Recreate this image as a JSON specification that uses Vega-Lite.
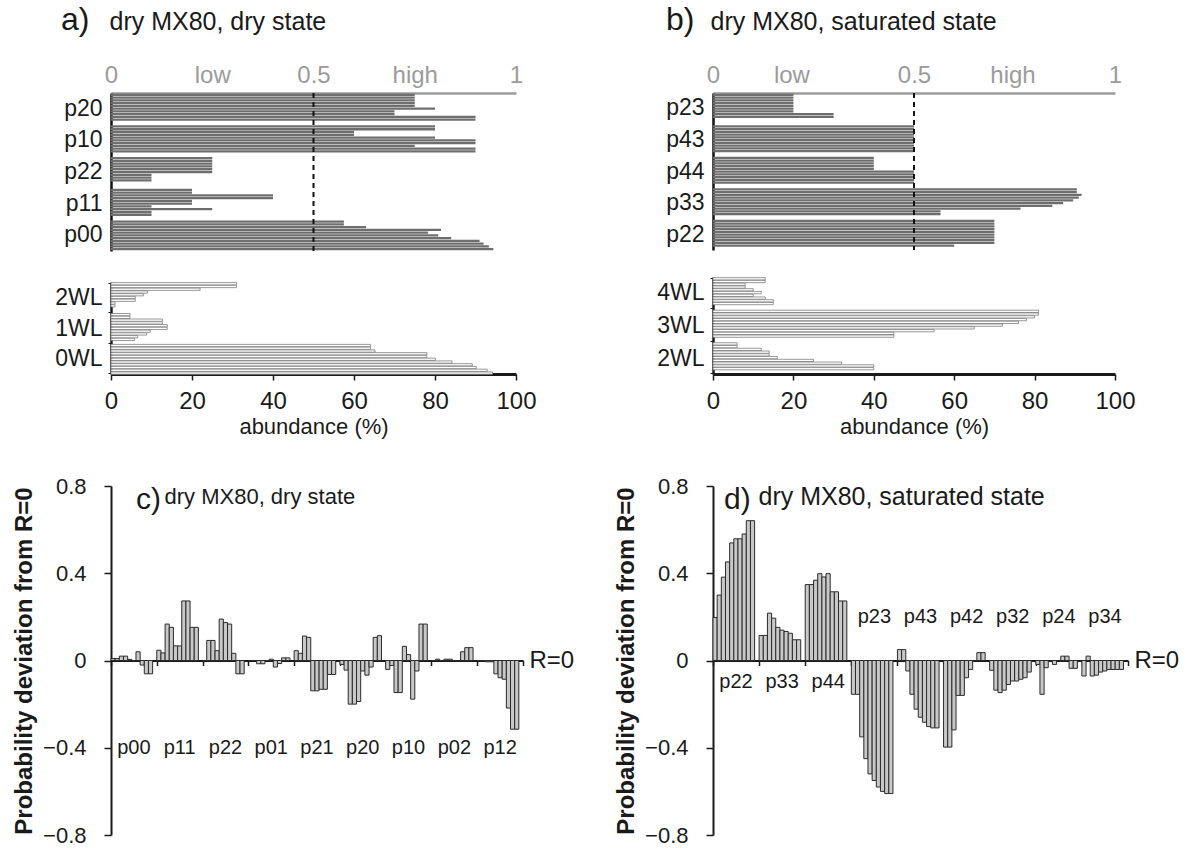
{
  "$schema": "https://vega.github.io/schema/vega-lite/v6.json",
  "background": "white",
  "padding": {"left": 12, "top": 4, "right": 0, "bottom": 0},
  "config": {
    "font": "Liberation Sans",
    "view": {"stroke": null},
    "axis": {"grid": false, "labelColor": "#1a1a1a", "titleColor": "#1a1a1a", "domainColor": "#1a1a1a", "tickColor": "#1a1a1a", "labelOverlap": false},
    "title": {"color": "#1a1a1a", "fontWeight": "normal"},
    "text": {"color": "#1a1a1a"}
  },
  "datasets": {
    "at": [
      {"g":"p20","i":0,"v":75},{"g":"p20","i":1,"v":75},{"g":"p20","i":2,"v":75},{"g":"p20","i":3,"v":75},{"g":"p20","i":4,"v":75},{"g":"p20","i":5,"v":80},{"g":"p20","i":6,"v":70},{"g":"p20","i":7,"v":70},{"g":"p20","i":8,"v":90},{"g":"p20","i":9,"v":90},
      {"g":"p10","i":0,"v":80},{"g":"p10","i":1,"v":80},{"g":"p10","i":2,"v":60},{"g":"p10","i":3,"v":60},{"g":"p10","i":4,"v":80},{"g":"p10","i":5,"v":90},{"g":"p10","i":6,"v":90},{"g":"p10","i":7,"v":75},{"g":"p10","i":8,"v":90},{"g":"p10","i":9,"v":90},
      {"g":"p22","i":0,"v":25},{"g":"p22","i":1,"v":25},{"g":"p22","i":2,"v":25},{"g":"p22","i":3,"v":25},{"g":"p22","i":4,"v":25},{"g":"p22","i":5,"v":25},{"g":"p22","i":6,"v":10},{"g":"p22","i":7,"v":10},{"g":"p22","i":8,"v":10},
      {"g":"p11","i":0,"v":20},{"g":"p11","i":1,"v":20},{"g":"p11","i":2,"v":40},{"g":"p11","i":3,"v":40},{"g":"p11","i":4,"v":20},{"g":"p11","i":5,"v":20},{"g":"p11","i":6,"v":10},{"g":"p11","i":7,"v":25},{"g":"p11","i":8,"v":10},{"g":"p11","i":9,"v":10},
      {"g":"p00","i":0,"v":57.5},{"g":"p00","i":1,"v":57.5},{"g":"p00","i":2,"v":63},{"g":"p00","i":3,"v":81.5},{"g":"p00","i":4,"v":78.3},{"g":"p00","i":5,"v":80.8},{"g":"p00","i":6,"v":84},{"g":"p00","i":7,"v":91},{"g":"p00","i":8,"v":92},{"g":"p00","i":9,"v":93.3},{"g":"p00","i":10,"v":94.4}
    ],
    "ab": [
      {"g":"2WL","i":0,"v":31},{"g":"2WL","i":1,"v":31},{"g":"2WL","i":2,"v":22},{"g":"2WL","i":3,"v":9},{"g":"2WL","i":4,"v":8},{"g":"2WL","i":5,"v":6},{"g":"2WL","i":6,"v":6},{"g":"2WL","i":7,"v":1},{"g":"2WL","i":8,"v":1},
      {"g":"1WL","i":0,"v":4.7},{"g":"1WL","i":1,"v":4.7},{"g":"1WL","i":2,"v":12.7},{"g":"1WL","i":3,"v":12.7},{"g":"1WL","i":4,"v":13.9},{"g":"1WL","i":5,"v":13.9},{"g":"1WL","i":6,"v":9.7},{"g":"1WL","i":7,"v":8.8},{"g":"1WL","i":8,"v":6.6},{"g":"1WL","i":9,"v":5.8},
      {"g":"0WL","i":0,"v":64.1},{"g":"0WL","i":1,"v":64.1},{"g":"0WL","i":2,"v":65.2},{"g":"0WL","i":3,"v":78},{"g":"0WL","i":4,"v":78},{"g":"0WL","i":5,"v":80.1},{"g":"0WL","i":6,"v":84.2},{"g":"0WL","i":7,"v":89.2},{"g":"0WL","i":8,"v":90.2},{"g":"0WL","i":9,"v":92.9},{"g":"0WL","i":10,"v":94.2}
    ],
    "bt": [
      {"g":"p23","i":0,"v":20},{"g":"p23","i":1,"v":20},{"g":"p23","i":2,"v":20},{"g":"p23","i":3,"v":20},{"g":"p23","i":4,"v":20},{"g":"p23","i":5,"v":20},{"g":"p23","i":6,"v":20},{"g":"p23","i":7,"v":30},{"g":"p23","i":8,"v":30},
      {"g":"p43","i":0,"v":50},{"g":"p43","i":1,"v":50},{"g":"p43","i":2,"v":50},{"g":"p43","i":3,"v":50},{"g":"p43","i":4,"v":50},{"g":"p43","i":5,"v":50},{"g":"p43","i":6,"v":50},{"g":"p43","i":7,"v":50},{"g":"p43","i":8,"v":50},{"g":"p43","i":9,"v":50},
      {"g":"p44","i":0,"v":40},{"g":"p44","i":1,"v":40},{"g":"p44","i":2,"v":40},{"g":"p44","i":3,"v":40},{"g":"p44","i":4,"v":40},{"g":"p44","i":5,"v":50},{"g":"p44","i":6,"v":50},{"g":"p44","i":7,"v":50},{"g":"p44","i":8,"v":50},{"g":"p44","i":9,"v":50},
      {"g":"p33","i":0,"v":90.5},{"g":"p33","i":1,"v":90.5},{"g":"p33","i":2,"v":91.7},{"g":"p33","i":3,"v":91},{"g":"p33","i":4,"v":89.6},{"g":"p33","i":5,"v":87.1},{"g":"p33","i":6,"v":84.4},{"g":"p33","i":7,"v":76.5},{"g":"p33","i":8,"v":56.6},{"g":"p33","i":9,"v":56.6},
      {"g":"p22","i":0,"v":70},{"g":"p22","i":1,"v":70},{"g":"p22","i":2,"v":70},{"g":"p22","i":3,"v":70},{"g":"p22","i":4,"v":70},{"g":"p22","i":5,"v":70},{"g":"p22","i":6,"v":70},{"g":"p22","i":7,"v":70},{"g":"p22","i":8,"v":70},{"g":"p22","i":9,"v":60}
    ],
    "bb": [
      {"g":"4WL","i":0,"v":13},{"g":"4WL","i":1,"v":13},{"g":"4WL","i":2,"v":8},{"g":"4WL","i":3,"v":8},{"g":"4WL","i":4,"v":10},{"g":"4WL","i":5,"v":12},{"g":"4WL","i":6,"v":10},{"g":"4WL","i":7,"v":13},{"g":"4WL","i":8,"v":15},{"g":"4WL","i":9,"v":15},
      {"g":"3WL","i":0,"v":81},{"g":"3WL","i":1,"v":81},{"g":"3WL","i":2,"v":80},{"g":"3WL","i":3,"v":78},{"g":"3WL","i":4,"v":76},{"g":"3WL","i":5,"v":72},{"g":"3WL","i":6,"v":65},{"g":"3WL","i":7,"v":55},{"g":"3WL","i":8,"v":45},{"g":"3WL","i":9,"v":45},
      {"g":"2WL","i":0,"v":6},{"g":"2WL","i":1,"v":6},{"g":"2WL","i":2,"v":12},{"g":"2WL","i":3,"v":14},{"g":"2WL","i":4,"v":14},{"g":"2WL","i":5,"v":16},{"g":"2WL","i":6,"v":25},{"g":"2WL","i":7,"v":32},{"g":"2WL","i":8,"v":40},{"g":"2WL","i":9,"v":40}
    ],
    "c": [
      {"g":"p00","i":0,"v":0.009},{"g":"p00","i":1,"v":0.009},{"g":"p00","i":2,"v":0.02},{"g":"p00","i":3,"v":0.02},{"g":"p00","i":4,"v":0.005},{"g":"p00","i":5,"v":0},{"g":"p00","i":6,"v":0.04},{"g":"p00","i":7,"v":-0.021},{"g":"p00","i":8,"v":-0.061},{"g":"p00","i":9,"v":-0.061},
      {"g":"p11","i":0,"v":0.047},{"g":"p11","i":1,"v":0.035},{"g":"p11","i":2,"v":0.167},{"g":"p11","i":3,"v":0.152},{"g":"p11","i":4,"v":0.067},{"g":"p11","i":5,"v":0.067},{"g":"p11","i":6,"v":0.273},{"g":"p11","i":7,"v":0.273},{"g":"p11","i":8,"v":0.152},{"g":"p11","i":9,"v":0.152},
      {"g":"p22","i":0,"v":0},{"g":"p22","i":1,"v":0.092},{"g":"p22","i":2,"v":0.092},{"g":"p22","i":3,"v":0.045},{"g":"p22","i":4,"v":0.19},{"g":"p22","i":5,"v":0.174},{"g":"p22","i":6,"v":0.167},{"g":"p22","i":7,"v":0.033},{"g":"p22","i":8,"v":-0.061},{"g":"p22","i":9,"v":-0.061},
      {"g":"p01","i":0,"v":0},{"g":"p01","i":1,"v":0},{"g":"p01","i":2,"v":-0.015},{"g":"p01","i":3,"v":-0.015},{"g":"p01","i":4,"v":0},{"g":"p01","i":5,"v":0.006},{"g":"p01","i":6,"v":-0.03},{"g":"p01","i":7,"v":-0.014},{"g":"p01","i":8,"v":0.012},{"g":"p01","i":9,"v":0.012},
      {"g":"p21","i":0,"v":0.045},{"g":"p21","i":1,"v":0.033},{"g":"p21","i":2,"v":0.112},{"g":"p21","i":3,"v":0.106},{"g":"p21","i":4,"v":-0.139},{"g":"p21","i":5,"v":-0.139},{"g":"p21","i":6,"v":-0.132},{"g":"p21","i":7,"v":-0.132},{"g":"p21","i":8,"v":-0.064},{"g":"p21","i":9,"v":-0.064},
      {"g":"p20","i":0,"v":-0.018},{"g":"p20","i":1,"v":-0.044},{"g":"p20","i":2,"v":-0.2},{"g":"p20","i":3,"v":-0.2},{"g":"p20","i":4,"v":-0.188},{"g":"p20","i":5,"v":-0.048},{"g":"p20","i":6,"v":-0.067},{"g":"p20","i":7,"v":-0.03},{"g":"p20","i":8,"v":0.106},{"g":"p20","i":9,"v":0.114},
      {"g":"p10","i":0,"v":-0.041},{"g":"p10","i":1,"v":-0.023},{"g":"p10","i":2,"v":-0.147},{"g":"p10","i":3,"v":-0.147},{"g":"p10","i":4,"v":0.065},{"g":"p10","i":5,"v":0.027},{"g":"p10","i":6,"v":-0.177},{"g":"p10","i":7,"v":-0.048},{"g":"p10","i":8,"v":0.167},{"g":"p10","i":9,"v":0.167},
      {"g":"p02","i":0,"v":0},{"g":"p02","i":1,"v":0.006},{"g":"p02","i":2,"v":0},{"g":"p02","i":3,"v":0.006},{"g":"p02","i":4,"v":0.006},{"g":"p02","i":5,"v":0},{"g":"p02","i":6,"v":0},{"g":"p02","i":7,"v":0.04},{"g":"p02","i":8,"v":0.059},{"g":"p02","i":9,"v":0.059},
      {"g":"p12","i":0,"v":0},{"g":"p12","i":1,"v":0},{"g":"p12","i":2,"v":-0.006},{"g":"p12","i":3,"v":-0.006},{"g":"p12","i":4,"v":-0.061},{"g":"p12","i":5,"v":-0.079},{"g":"p12","i":6,"v":-0.086},{"g":"p12","i":7,"v":-0.218},{"g":"p12","i":8,"v":-0.315},{"g":"p12","i":9,"v":-0.315}
    ],
    "d": [
      {"g":"p22","i":0,"v":0.197},{"g":"p22","i":1,"v":0.3},{"g":"p22","i":2,"v":0.382},{"g":"p22","i":3,"v":0.452},{"g":"p22","i":4,"v":0.539},{"g":"p22","i":5,"v":0.558},{"g":"p22","i":6,"v":0.558},{"g":"p22","i":7,"v":0.58},{"g":"p22","i":8,"v":0.641},{"g":"p22","i":9,"v":0.641},
      {"g":"p33","i":0,"v":0.115},{"g":"p33","i":1,"v":0.115},{"g":"p33","i":2,"v":0.217},{"g":"p33","i":3,"v":0.194},{"g":"p33","i":4,"v":0.152},{"g":"p33","i":5,"v":0.139},{"g":"p33","i":6,"v":0.133},{"g":"p33","i":7,"v":0.125},{"g":"p33","i":8,"v":0.095},{"g":"p33","i":9,"v":0.095},
      {"g":"p44","i":0,"v":0.348},{"g":"p44","i":1,"v":0.348},{"g":"p44","i":2,"v":0.368},{"g":"p44","i":3,"v":0.398},{"g":"p44","i":4,"v":0.383},{"g":"p44","i":5,"v":0.398},{"g":"p44","i":6,"v":0.315},{"g":"p44","i":7,"v":0.315},{"g":"p44","i":8,"v":0.273},{"g":"p44","i":9,"v":0.273},
      {"g":"p23","i":0,"v":-0.155},{"g":"p23","i":1,"v":-0.155},{"g":"p23","i":2,"v":-0.35},{"g":"p23","i":3,"v":-0.45},{"g":"p23","i":4,"v":-0.52},{"g":"p23","i":5,"v":-0.55},{"g":"p23","i":6,"v":-0.58},{"g":"p23","i":7,"v":-0.6},{"g":"p23","i":8,"v":-0.61},{"g":"p23","i":9,"v":-0.61},
      {"g":"p43","i":0,"v":0.05},{"g":"p43","i":1,"v":0.05},{"g":"p43","i":2,"v":-0.048},{"g":"p43","i":3,"v":-0.155},{"g":"p43","i":4,"v":-0.223},{"g":"p43","i":5,"v":-0.26},{"g":"p43","i":6,"v":-0.283},{"g":"p43","i":7,"v":-0.303},{"g":"p43","i":8,"v":-0.309},{"g":"p43","i":9,"v":-0.309},
      {"g":"p42","i":0,"v":-0.397},{"g":"p42","i":1,"v":-0.397},{"g":"p42","i":2,"v":-0.318},{"g":"p42","i":3,"v":-0.16},{"g":"p42","i":4,"v":-0.16},{"g":"p42","i":5,"v":-0.079},{"g":"p42","i":6,"v":-0.041},{"g":"p42","i":7,"v":0},{"g":"p42","i":8,"v":0.036},{"g":"p42","i":9,"v":0.036},
      {"g":"p32","i":0,"v":-0.045},{"g":"p32","i":1,"v":-0.136},{"g":"p32","i":2,"v":-0.147},{"g":"p32","i":3,"v":-0.136},{"g":"p32","i":4,"v":-0.11},{"g":"p32","i":5,"v":-0.094},{"g":"p32","i":6,"v":-0.094},{"g":"p32","i":7,"v":-0.086},{"g":"p32","i":8,"v":-0.079},{"g":"p32","i":9,"v":-0.053},
      {"g":"p24","i":0,"v":-0.018},{"g":"p24","i":1,"v":-0.155},{"g":"p24","i":2,"v":-0.033},{"g":"p24","i":3,"v":0},{"g":"p24","i":4,"v":-0.018},{"g":"p24","i":5,"v":0},{"g":"p24","i":6,"v":0.02},{"g":"p24","i":7,"v":0.02},{"g":"p24","i":8,"v":-0.036},{"g":"p24","i":9,"v":-0.036},
      {"g":"p34","i":0,"v":-0.071},{"g":"p34","i":1,"v":0.02},{"g":"p34","i":2,"v":-0.071},{"g":"p34","i":3,"v":-0.067},{"g":"p34","i":4,"v":-0.053},{"g":"p34","i":5,"v":-0.048},{"g":"p34","i":6,"v":-0.041},{"g":"p34","i":7,"v":-0.041},{"g":"p34","i":8,"v":-0.041},{"g":"p34","i":9,"v":-0.041}
    ]
  },
  "spacing": 40,
  "hconcat": [
    {
      "spacing": 31,
      "bounds": "flush",
      "vconcat": [
        {
          "width": 405, "height": 158,
          "title": {"text": "a)", "anchor": "start", "frame": "group", "fontSize": 32, "dx": -50, "dy": 31, "offset": -12, "baseline": "middle"},
          "layer": [
            {
              "data": {"name": "at"},
              "mark": {"type": "bar", "fill": "#6e6e6e"},
              "encoding": {
                "y": {"field": "g", "type": "nominal", "scale": {"domain": ["p20","p10","p22","p11","p00"], "paddingInner": 0.06, "paddingOuter": 0.02}, "axis": {"title": null, "ticks": false, "tickSize": 0, "domainColor": "#111", "domainWidth": 2.5, "labelFontSize": 23, "labelPadding": 9}},
                "yOffset": {"field": "i", "type": "ordinal", "scale": {"paddingInner": 0.18}},
                "x": {"field": "v", "type": "quantitative", "scale": {"domain": [0, 100], "nice": false},
                  "axis": {"orient": "top", "values": [0, 25, 50, 75, 100], "labelExpr": "datum.value == 0 ? '0' : datum.value < 30 ? 'low' : datum.value == 50 ? '0.5' : datum.value < 90 ? 'high' : '1'", "ticks": false, "tickSize": 0, "domainColor": "#9b9b9b", "domainWidth": 2.5, "labelColor": "#9b9b9b", "labelFontSize": 24, "labelPadding": 6, "labelFlush": false, "title": "dry MX80, dry state", "titleFontSize": 25, "titleFontWeight": "normal", "titleX": -2, "titleY": -72, "titleAlign": "left", "titleAnchor": "start", "titleBaseline": "middle"}}
              }
            },
            {
              "data": {"values": [{}]},
              "mark": {"type": "rule", "strokeDash": [5, 4], "strokeWidth": 2, "color": "#111"},
              "encoding": {"x": {"datum": 50}}
            }
          ]
        },
        {
          "width": 405, "height": 92,
          "data": {"name": "ab"},
          "mark": {"type": "bar", "fill": "white", "stroke": "#7d7d7d", "strokeWidth": 0.8},
          "encoding": {
            "y": {"field": "g", "type": "nominal", "scale": {"domain": ["2WL","1WL","0WL"], "paddingInner": 0.06, "paddingOuter": 0.02}, "axis": {"title": null, "tickBand": "extent", "tickSize": 3, "domainWidth": 2.5, "labelFontSize": 23, "labelPadding": 6}},
            "yOffset": {"field": "i", "type": "ordinal", "scale": {"paddingInner": 0.15}},
            "x": {"field": "v", "type": "quantitative", "scale": {"domain": [0, 100], "nice": false},
              "axis": {"values": [0, 20, 40, 60, 80, 100], "tickSize": 6, "tickWidth": 1.5, "domainWidth": 3, "labelFontSize": 24, "labelPadding": 9, "labelFlush": false, "title": "abundance (%)", "titleFontSize": 22, "titleFontWeight": "normal", "titlePadding": 3}}
          }
        },
        {
          "width": 10, "height": 50,
          "data": {"values": [{}]},
          "mark": {"type": "text"},
          "encoding": {"text": {"value": ""}}
        },
        {
          "width": 412, "height": 349,
          "title": {"text": "c)", "anchor": "start", "frame": "group", "fontSize": 30, "dx": 25, "dy": 30, "offset": -25, "baseline": "middle"},
          "layer": [
            {
              "data": {"name": "c"},
              "mark": {"type": "bar", "fill": "#c8c8c8", "stroke": "#2b2b2b", "strokeWidth": 1},
              "encoding": {
                "x": {"field": "g", "type": "nominal", "scale": {"domain": ["p00","p11","p22","p01","p21","p20","p10","p02","p12"], "paddingInner": 0, "paddingOuter": 0},
                  "axis": {"orient": "bottom", "offset": -174.5, "labels": false, "tickBand": "extent", "tickSize": 5, "tickWidth": 1.5, "domainWidth": 2, "title": "R=0", "titleX": 418, "titleY": 0, "titleAlign": "left", "titleBaseline": "middle", "titleAngle": 0, "titleFontSize": 24, "titleFontWeight": "normal"}},
                "xOffset": {"field": "i", "type": "ordinal", "scale": {"paddingInner": 0, "paddingOuter": 0.5, "align": 0}},
                "y": {"field": "v", "type": "quantitative", "scale": {"domain": [-0.8, 0.8], "nice": false},
                  "axis": {"values": [-0.8, -0.4, 0, 0.4, 0.8], "format": ".1~f", "tickSize": 7, "tickWidth": 1.5, "domainWidth": 2, "labelFontSize": 22, "labelPadding": 18, "title": "Probability deviation from R=0", "titleFontSize": 24, "titleFontWeight": "bold", "titlePadding": 6}}
              }
            },
            {
              "data": {"values": [{"g":"p00"},{"g":"p11"},{"g":"p22"},{"g":"p01"},{"g":"p21"},{"g":"p20"},{"g":"p10"},{"g":"p02"},{"g":"p12"}]},
              "mark": {"type": "text", "fontSize": 20, "baseline": "middle"},
              "encoding": {
                "x": {"field": "g", "type": "nominal", "scale": {"domain": ["p00","p11","p22","p01","p21","p20","p10","p02","p12"]},
                  "axis": {"orient": "top", "labels": false, "ticks": false, "domain": false, "title": "dry MX80, dry state", "titleFontSize": 22, "titleFontWeight": "normal", "titleX": 53, "titleY": 10, "titleAlign": "left", "titleBaseline": "middle"}},
                "y": {"datum": -0.4},
                "text": {"field": "g"}
              }
            }
          ],
          "resolve": {"axis": {"x": "independent"}}
        }
      ]
    },
    {
      "spacing": 27,
      "bounds": "flush",
      "vconcat": [
        {
          "width": 402, "height": 157,
          "title": {"text": "b)", "anchor": "start", "frame": "group", "fontSize": 32, "dx": -47, "dy": 31, "offset": -12, "baseline": "middle"},
          "layer": [
            {
              "data": {"name": "bt"},
              "mark": {"type": "bar", "fill": "#6e6e6e"},
              "encoding": {
                "y": {"field": "g", "type": "nominal", "scale": {"domain": ["p23","p43","p44","p33","p22"], "paddingInner": 0.06, "paddingOuter": 0.02}, "axis": {"title": null, "ticks": false, "tickSize": 0, "domainColor": "#111", "domainWidth": 2.5, "labelFontSize": 23, "labelPadding": 9}},
                "yOffset": {"field": "i", "type": "ordinal", "scale": {"paddingInner": 0.18}},
                "x": {"field": "v", "type": "quantitative", "scale": {"domain": [0, 100], "nice": false},
                  "axis": {"orient": "top", "values": [0, 19.5, 50, 74.5, 100], "labelExpr": "datum.value == 0 ? '0' : datum.value < 30 ? 'low' : datum.value == 50 ? '0.5' : datum.value < 90 ? 'high' : '1'", "ticks": false, "tickSize": 0, "domainColor": "#9b9b9b", "domainWidth": 2.5, "labelColor": "#9b9b9b", "labelFontSize": 24, "labelPadding": 6, "labelFlush": false, "title": "dry MX80, saturated state", "titleFontSize": 25, "titleFontWeight": "normal", "titleX": -3, "titleY": -72, "titleAlign": "left", "titleAnchor": "start", "titleBaseline": "middle"}}
              }
            },
            {
              "data": {"values": [{}]},
              "mark": {"type": "rule", "strokeDash": [5, 4], "strokeWidth": 2, "color": "#111"},
              "encoding": {"x": {"datum": 50}}
            }
          ]
        },
        {
          "width": 402, "height": 97,
          "data": {"name": "bb"},
          "mark": {"type": "bar", "fill": "white", "stroke": "#7d7d7d", "strokeWidth": 0.8},
          "encoding": {
            "y": {"field": "g", "type": "nominal", "scale": {"domain": ["4WL","3WL","2WL"], "paddingInner": 0.06, "paddingOuter": 0.02}, "axis": {"title": null, "tickBand": "extent", "tickSize": 3, "domainWidth": 2.5, "labelFontSize": 23, "labelPadding": 6}},
            "yOffset": {"field": "i", "type": "ordinal", "scale": {"paddingInner": 0.15}},
            "x": {"field": "v", "type": "quantitative", "scale": {"domain": [0, 100], "nice": false},
              "axis": {"values": [0, 20, 40, 60, 80, 100], "tickSize": 6, "tickWidth": 1.5, "domainWidth": 3, "labelFontSize": 24, "labelPadding": 9, "labelFlush": false, "title": "abundance (%)", "titleFontSize": 22, "titleFontWeight": "normal", "titlePadding": 3}}
          }
        },
        {
          "width": 10, "height": 58,
          "data": {"values": [{}]},
          "mark": {"type": "text"},
          "encoding": {"text": {"value": ""}}
        },
        {
          "width": 415, "height": 349,
          "title": {"text": "d)", "anchor": "start", "frame": "group", "fontSize": 30, "dx": 11, "dy": 30, "offset": -25, "baseline": "middle"},
          "layer": [
            {
              "data": {"name": "d"},
              "mark": {"type": "bar", "fill": "#c8c8c8", "stroke": "#2b2b2b", "strokeWidth": 1},
              "encoding": {
                "x": {"field": "g", "type": "nominal", "scale": {"domain": ["p22","p33","p44","p23","p43","p42","p32","p24","p34"], "paddingInner": 0, "paddingOuter": 0},
                  "axis": {"orient": "bottom", "offset": -174.5, "labels": false, "tickBand": "extent", "tickSize": 5, "tickWidth": 1.5, "domainWidth": 2, "title": "R=0", "titleX": 421, "titleY": 0, "titleAlign": "left", "titleBaseline": "middle", "titleAngle": 0, "titleFontSize": 24, "titleFontWeight": "normal"}},
                "xOffset": {"field": "i", "type": "ordinal", "scale": {"paddingInner": 0, "paddingOuter": 0.5, "align": 0}},
                "y": {"field": "v", "type": "quantitative", "scale": {"domain": [-0.8, 0.8], "nice": false},
                  "axis": {"values": [-0.8, -0.4, 0, 0.4, 0.8], "format": ".1~f", "tickSize": 7, "tickWidth": 1.5, "domainWidth": 2, "labelFontSize": 22, "labelPadding": 18, "title": "Probability deviation from R=0", "titleFontSize": 24, "titleFontWeight": "bold", "titlePadding": 6}}
              }
            },
            {
              "data": {"values": [{"g":"p22"},{"g":"p33"},{"g":"p44"}]},
              "mark": {"type": "text", "fontSize": 20, "baseline": "middle"},
              "encoding": {
                "x": {"field": "g", "type": "nominal", "scale": {"domain": ["p22","p33","p44","p23","p43","p42","p32","p24","p34"]},
                  "axis": {"orient": "top", "labels": false, "ticks": false, "domain": false, "title": "dry MX80, saturated state", "titleFontSize": 25, "titleFontWeight": "normal", "titleX": 45, "titleY": 10, "titleAlign": "left", "titleBaseline": "middle"}},
                "y": {"datum": -0.1},
                "text": {"field": "g"}
              }
            },
            {
              "data": {"values": [{"g":"p23"},{"g":"p43"},{"g":"p42"},{"g":"p32"},{"g":"p24"},{"g":"p34"}]},
              "mark": {"type": "text", "fontSize": 20, "baseline": "middle"},
              "encoding": {
                "x": {"field": "g", "type": "nominal", "scale": {"domain": ["p22","p33","p44","p23","p43","p42","p32","p24","p34"]}, "axis": null},
                "y": {"datum": 0.2},
                "text": {"field": "g"}
              }
            }
          ],
          "resolve": {"axis": {"x": "independent"}}
        }
      ]
    }
  ]
}
